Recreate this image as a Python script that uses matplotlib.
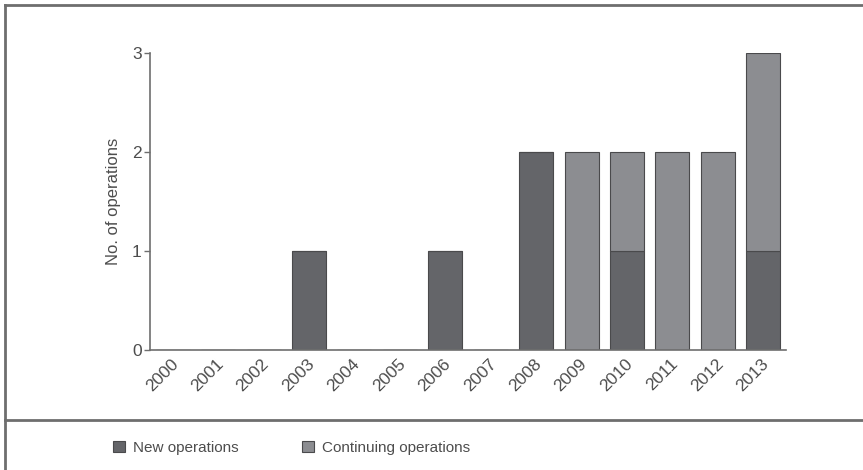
import matplotlib

matplotlib.use("Agg")
import matplotlib.pyplot as plt
import matplotlib.transforms as mtransforms
from matplotlib.lines import Line2D
from matplotlib.patches import Patch

years = [str(y) for y in range(2000, 2014)]
new_ops = [0, 0, 0, 1, 0, 0, 1, 0, 2, 0, 1, 0, 0, 1]
continuing_ops = [0, 0, 0, 0, 0, 0, 0, 0, 0, 2, 1, 2, 2, 2]

DARK = "#646569"
LIGHT = "#8c8d91"
EDGE = "#4a4a4c"
TEXT = "#4d4d4d"
LINE = "#6e6e6e"

plt.rcParams["font.family"] = ["Liberation Sans", "DejaVu Sans"]

fig = plt.figure(figsize=(8.63, 4.70), dpi=100)
ax = fig.add_axes([150 / 863, 1 - 350 / 470, (786 - 150) / 863, (350 - 53) / 470])

x = range(len(years))
ax.bar(x, new_ops, width=0.75, color=DARK, edgecolor=EDGE, linewidth=0.8)
ax.bar(x, continuing_ops, width=0.75, bottom=new_ops, color=LIGHT, edgecolor=EDGE, linewidth=0.8)

ax.set_xlim(-0.5, len(years) - 0.5)
ax.set_ylim(0, 3)
ax.set_yticks([0, 1, 2, 3])
ax.set_xticks(list(x), years, rotation=45, ha="right", va="center", rotation_mode="anchor")
ax.tick_params(axis="x", length=0, labelsize=12.5, labelcolor=TEXT, pad=8)
ax.tick_params(axis="y", length=4, width=1, color=LINE, labelsize=12.5, labelcolor=TEXT, pad=2)
# nudge the rotated year labels a little to the right
shift = mtransforms.ScaledTranslation(3 / 100, 0, fig.dpi_scale_trans)
for lbl in ax.get_xticklabels():
    lbl.set_transform(lbl.get_transform() + shift)
for side in ("top", "right"):
    ax.spines[side].set_visible(False)
for side in ("left", "bottom"):
    ax.spines[side].set_color(LINE)
    ax.spines[side].set_linewidth(1.2)
ax.set_ylabel("No. of operations", fontsize=12, color=TEXT, labelpad=8)

# outer frame and separator
fig.add_artist(Line2D([5 / 863, 1], [1 - 5 / 470, 1 - 5 / 470], color=LINE, lw=2, transform=fig.transFigure))
fig.add_artist(Line2D([5 / 863, 5 / 863], [0, 1 - 5 / 470], color=LINE, lw=2, transform=fig.transFigure))
fig.add_artist(Line2D([5 / 863, 1], [1 - 420 / 470, 1 - 420 / 470], color=LINE, lw=2, transform=fig.transFigure))

handles = [
    Patch(facecolor=DARK, edgecolor=EDGE, linewidth=0.8, label="New operations"),
    Patch(facecolor=LIGHT, edgecolor=EDGE, linewidth=0.8, label="Continuing operations"),
]
fig.legend(
    handles=handles,
    loc="center left",
    bbox_to_anchor=(99 / 863, 1 - 448 / 470),
    ncol=2,
    frameon=False,
    handlelength=0.78,
    handleheight=0.78,
    handletextpad=0.55,
    columnspacing=4.15,
    labelcolor=TEXT,
    prop={"size": 11},
)

fig.savefig("out.png", dpi=100)
